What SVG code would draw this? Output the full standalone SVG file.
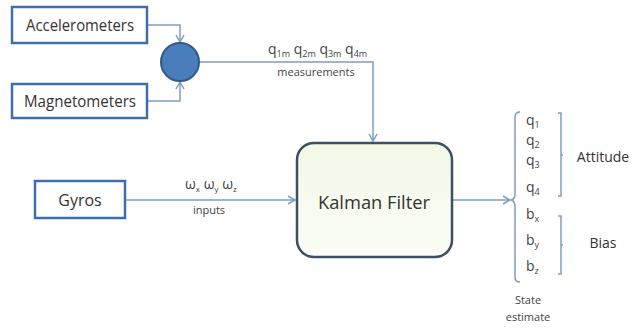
<svg xmlns="http://www.w3.org/2000/svg" width="642" height="329" viewBox="0 0 642 329">
<defs>
<style>
.box{fill:#ffffff;stroke:#3e6fa8;stroke-width:2.5}
.lbl{font-family:"Open Sans","Liberation Sans",sans-serif;fill:#333;text-anchor:middle}
.conn{fill:none;stroke:#7d9cc4;stroke-width:1.5}
.brk{fill:none;stroke:#7d9cc4;stroke-width:1.5}
.sm{font-family:"Open Sans","Liberation Sans",sans-serif;fill:#444;font-size:11px;text-anchor:middle}
.var{font-family:"Open Sans","Liberation Sans",sans-serif;fill:#444;font-size:14px}
</style>
<marker id="arr" markerWidth="10" markerHeight="10" refX="8" refY="5" orient="auto" markerUnits="userSpaceOnUse">
<polyline points="1,1 8,5 1,9" fill="none" stroke="#7d9cc4" stroke-width="1.5"/>
</marker>
<linearGradient id="kg" x1="0" y1="0" x2="0" y2="1">
<stop offset="0" stop-color="#f3f8e8"/>
<stop offset="1" stop-color="#fbfdf6"/>
</linearGradient>
</defs>
<rect width="642" height="329" fill="#ffffff"/>
<g id="connectors">
<polyline class="conn" points="147,25 180,25 180,42" marker-end="url(#arr)"/>
<polyline class="conn" points="147,101 180,101 180,82" marker-end="url(#arr)"/>
<polyline class="conn" points="199,62 373,62 373,141" marker-end="url(#arr)"/>
<line class="conn" x1="126" y1="200" x2="295" y2="200" marker-end="url(#arr)"/>
<line class="conn" x1="453" y1="200" x2="510" y2="200" marker-end="url(#arr)"/>
</g>
<g id="accelerometers">
<rect class="box" x="12" y="7" width="135" height="36"/>
<text class="lbl" x="80" y="31" font-size="16" textLength="108" lengthAdjust="spacingAndGlyphs">Accelerometers</text>
</g>
<g id="magnetometers">
<rect class="box" x="12" y="84" width="135" height="34"/>
<text class="lbl" x="80" y="107" font-size="16" textLength="112" lengthAdjust="spacingAndGlyphs">Magnetometers</text>
</g>
<g id="sum">
<circle cx="180" cy="62" r="19" fill="#4a7dbb" stroke="#30598c" stroke-width="2"/>
</g>
<g id="gyros">
<rect class="box" x="35" y="181" width="90" height="37"/>
<text class="lbl" x="80" y="206" font-size="16">Gyros</text>
</g>
<g id="kalman">
<rect x="297" y="143" width="155" height="114" rx="17" ry="17" fill="url(#kg)" stroke="#3b4f66" stroke-width="2.5"/>
<text class="lbl" x="374" y="209" font-size="19" textLength="112" lengthAdjust="spacingAndGlyphs" fill="#2d3b4a">Kalman Filter</text>
</g>
<g id="meas-label">
<text class="var" x="268" y="54">q<tspan font-size="9" dy="3">1m</tspan><tspan dy="-3"> q</tspan><tspan font-size="9" dy="3">2m</tspan><tspan dy="-3"> q</tspan><tspan font-size="9" dy="3">3m</tspan><tspan dy="-3"> q</tspan><tspan font-size="9" dy="3">4m</tspan></text>
<text class="sm" x="316" y="76">measurements</text>
</g>
<g id="input-label">
<text class="var" x="185" y="189">ω<tspan font-size="8" dy="3">x</tspan><tspan dy="-3"> ω</tspan><tspan font-size="8" dy="3">y</tspan><tspan dy="-3"> ω</tspan><tspan font-size="8" dy="3">z</tspan></text>
<text class="sm" x="209" y="214">inputs</text>
</g>
<g id="state">
<path class="brk" d="M520,112 Q515,112 515,117 L515,194 Q515,199 511,200 Q515,201 515,206 L515,277 Q515,282 520,282"/>
<text class="var" x="526" y="125">q<tspan font-size="9" dy="3">1</tspan></text>
<text class="var" x="526" y="145">q<tspan font-size="9" dy="3">2</tspan></text>
<text class="var" x="526" y="165">q<tspan font-size="9" dy="3">3</tspan></text>
<text class="var" x="526" y="192">q<tspan font-size="9" dy="3">4</tspan></text>
<text class="var" x="526" y="219">b<tspan font-size="9" dy="3">x</tspan></text>
<text class="var" x="526" y="245">b<tspan font-size="9" dy="3">y</tspan></text>
<text class="var" x="526" y="271">b<tspan font-size="9" dy="3">z</tspan></text>
<path class="brk" d="M558,113 L561,113 L561,196 L558,196 M561,155 L563,155"/>
<path class="brk" d="M558,216 L561,216 L561,274 L558,274 M561,245 L563,245"/>
<text class="lbl" x="603" y="162" font-size="14">Attitude</text>
<text class="lbl" x="603" y="248" font-size="14">Bias</text>
<text class="sm" x="528" y="304">State</text>
<text class="sm" x="528" y="321">estimate</text>
</g>
</svg>
